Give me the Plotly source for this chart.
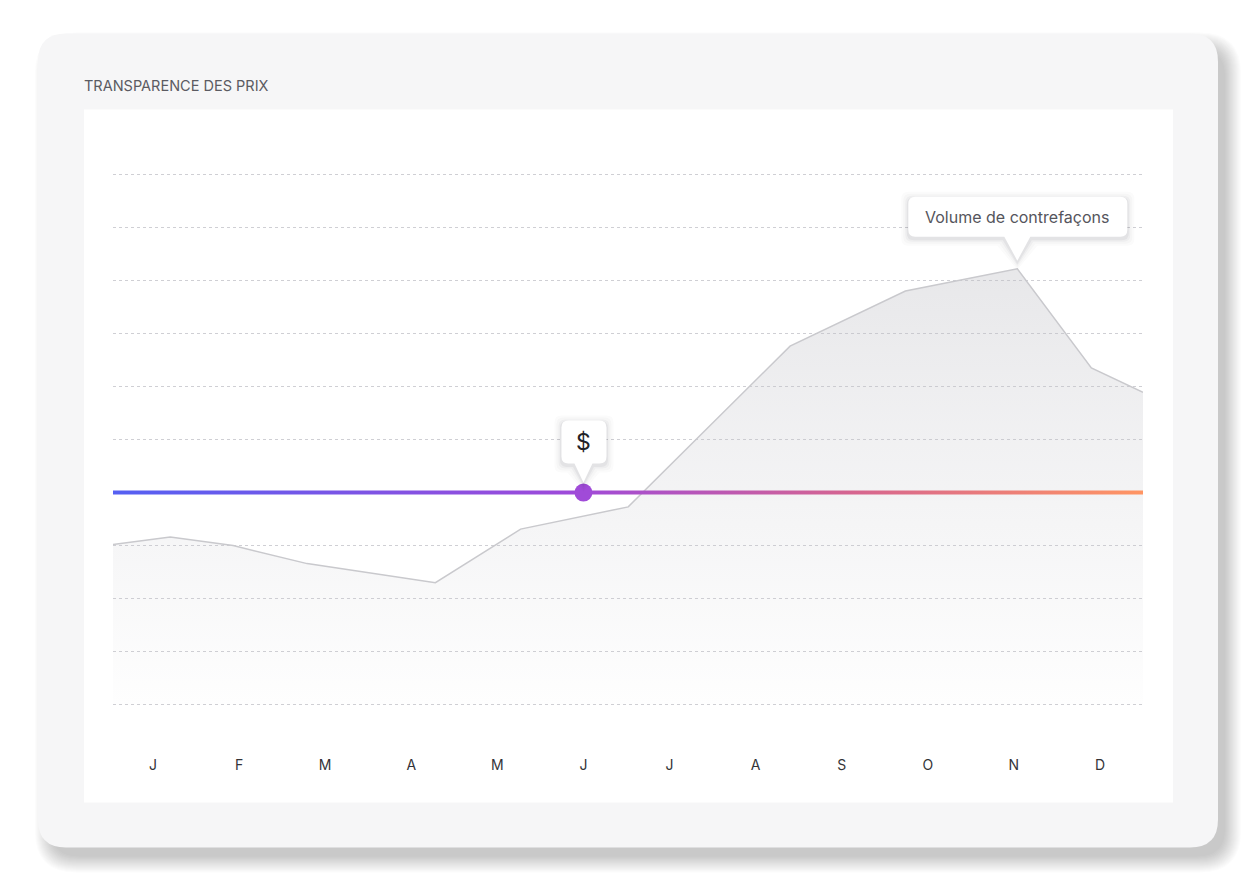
import plotly.graph_objects as go

# ---- data ----
months = ["J", "F", "M", "A", "M", "J", "J", "A", "S", "O", "N", "D"]
# counterfeit volume: x in month units (0 = Jan), y on a 0-10 scale
volume_x = [-0.465, 0.2, 0.93, 1.79, 3.28, 4.27, 5.52, 7.40, 8.74, 10.04, 10.90, 11.5]
volume_y = [3.02, 3.16, 3.0, 2.66, 2.3, 3.31, 3.73, 6.76, 7.80, 8.22, 6.35, 5.89]
price_level = 4          # flat price line
price_marker_month = 5   # June

title_text = "TRANSPARENCE DES PRIX"
volume_label = "Volume de contrefaçons"
price_label = "$"

# ---- geometry (pixels of the page; the page body adds an 8px offset) ----
OFF = 8
W, H = 1256 - OFF, 880 - OFF
L, R, T, B = 113 - OFF, 1143 - OFF, 174 - OFF, 705 - OFF
X_RANGE = [-0.465, 11.5]
Y_RANGE = [0, 10]
PAD = 0.1                      # a little room so the edge gridlines are drawn
UNIT = (B - T) / (Y_RANGE[1] - Y_RANGE[0])
PT, PB = T - PAD * UNIT, B + PAD * UNIT   # real plot-area top / bottom
FONT = "Inter"


def px2paper(px, py):
    px -= OFF
    py -= OFF
    return (px - L) / (R - L), (PB - py) / (PB - PT)


def rrect_paper(x0, y0, x1, y1, r):
    # rounded rectangle in page pixels -> path in paper coords
    pts = [("M", x0 + r, y0), ("L", x1 - r, y0), ("Q", x1, y0, x1, y0 + r),
           ("L", x1, y1 - r), ("Q", x1, y1, x1 - r, y1), ("L", x0 + r, y1),
           ("Q", x0, y1, x0, y1 - r), ("L", x0, y0 + r), ("Q", x0, y0, x0 + r, y0)]
    out = []
    for p in pts:
        cmd, coords = p[0], p[1:]
        conv = []
        for i in range(0, len(coords), 2):
            a, b = px2paper(coords[i], coords[i + 1])
            conv.append(f"{a:.5f},{b:.5f}")
        out.append(cmd + " ".join(conv))
    return " ".join(out) + " Z"


def bubble_path(x0, x1, ybot, ytop, tip, half, r, e=0):
    # pixel offsets from anchor, y upward; box with pointer pointing down
    x0 -= e; x1 += e; ybot -= e; ytop += e; tip -= e; half += e
    return (f"M{x0 + r},{ytop} L{x1 - r},{ytop} Q{x1},{ytop} {x1},{ytop - r} "
            f"L{x1},{ybot + r} Q{x1},{ybot} {x1 - r},{ybot} "
            f"L{half},{ybot} L0,{tip} L{-half},{ybot} "
            f"L{x0 + r},{ybot} Q{x0},{ybot} {x0},{ybot + r} "
            f"L{x0},{ytop - r} Q{x0},{ytop} {x0 + r},{ytop} Z")


shapes = []
# card shadow (soft, towards bottom-right)
n = 18
for i in range(n):
    e = 16 * (1 - i / (n - 1)) - 3
    shapes.append(dict(type="path", xref="paper", yref="paper", layer="below",
                       path=rrect_paper(38 + 10 - e, 33 + 12 - e, 1218 + 10 + e, 848 + 12 + e, 28 + max(e, 0)),
                       fillcolor="rgba(60,60,72,0.017)", line_width=0))
# card
shapes.append(dict(type="path", xref="paper", yref="paper", layer="below",
                   path=rrect_paper(38, 33, 1218, 848, 28),
                   fillcolor="#f6f6f7", line_width=0))
# white panel
a0, b0 = px2paper(84, 109)
a1, b1 = px2paper(1173, 803)
shapes.append(dict(type="rect", xref="paper", yref="paper", layer="below",
                   x0=a0, x1=a1, y0=b1, y1=b0, fillcolor="white", line_width=0))

peak_i = volume_y.index(max(volume_y))
peak_x, peak_y = volume_x[peak_i], volume_y[peak_i]


def add_bubble(ax, ay, x0, x1, ybot, ytop, tip, half):
    for e, a in [(7, 0.018), (5, 0.025), (3, 0.035), (1.5, 0.05)]:
        shapes.append(dict(type="path", xref="x", yref="y", layer="above",
                           xsizemode="pixel", ysizemode="pixel", xanchor=ax, yanchor=ay,
                           path=bubble_path(x0, x1, ybot - 2, ytop - 2, tip - 2, half, 7, e),
                           fillcolor=f"rgba(40,40,50,{a})", line_width=0))
    shapes.append(dict(type="path", xref="x", yref="y", layer="above",
                       xsizemode="pixel", ysizemode="pixel", xanchor=ax, yanchor=ay,
                       path=bubble_path(x0, x1, ybot, ytop, tip, half, 7),
                       fillcolor="white", line_width=0))


add_bubble(peak_x, peak_y, -109, 110, 32, 72, 8, 13)
add_bubble(price_marker_month, price_level, -22, 23, 29, 72, 10, 9)

fig = go.Figure()

# volume area
fig.add_trace(go.Scatter(
    x=volume_x, y=volume_y, mode="lines", fill="tozeroy",
    line=dict(color="#c9c9cd", width=1.5),
    fillgradient=dict(type="vertical", start=0, stop=max(volume_y),
                      colorscale=[[0, "rgba(200,200,206,0.02)"],
                                  [0.5, "rgba(195,195,201,0.2)"],
                                  [1, "rgba(190,190,196,0.36)"]]),
    hoverinfo="skip", showlegend=False))

# gradient price line, drawn as a thin band
half_t = 2 / UNIT
line_x = [X_RANGE[0], X_RANGE[1]]
fig.add_trace(go.Scatter(x=line_x, y=[price_level - half_t] * 2, mode="lines",
                         line=dict(width=0), hoverinfo="skip", showlegend=False))
fig.add_trace(go.Scatter(
    x=line_x, y=[price_level + half_t] * 2, mode="lines", fill="tonexty",
    line=dict(width=0),
    fillgradient=dict(type="horizontal", start=X_RANGE[0], stop=X_RANGE[1],
                      colorscale=[[0, "#5560f2"], [0.45, "#9f4ad9"],
                                  [0.72, "#d6658f"], [1, "#ff9563"]]),
    hoverinfo="skip", showlegend=False))

# price marker
fig.add_trace(go.Scatter(x=[price_marker_month], y=[price_level], mode="markers",
                         marker=dict(size=18, color="#a04bd8"),
                         hoverinfo="skip", showlegend=False))

tx, ty = px2paper(82, 85)
annotations = [
    dict(xref="paper", yref="paper", x=tx, y=ty, xanchor="left", yanchor="middle",
         text=title_text, showarrow=False, font=dict(family=FONT, size=14.5, color="#5b5b62")),
    dict(xref="x", yref="y", x=peak_x, y=peak_y, yshift=52, text=volume_label,
         showarrow=False, font=dict(family=FONT, size=16, color="#55555c")),
    dict(xref="x", yref="y", x=price_marker_month, y=price_level, yshift=51, text=price_label,
         showarrow=False, font=dict(family=FONT, size=23, color="#222226")),
]

fig.update_layout(
    width=W, height=H,
    margin=dict(l=L, r=W - R, t=PT, b=H - PB),
    paper_bgcolor="white", plot_bgcolor="rgba(0,0,0,0)",
    shapes=shapes, annotations=annotations,
    xaxis=dict(range=X_RANGE, tickvals=list(range(len(months))), ticktext=months,
               showgrid=False, zeroline=False, showline=False, ticks="",
               ticklabelstandoff=45,
               tickfont=dict(family=FONT, size=14, color="#333338"), fixedrange=True),
    yaxis=dict(range=[Y_RANGE[0] - PAD, Y_RANGE[1] + PAD], dtick=1, tick0=0,
               showticklabels=False, zeroline=False, showline=False, ticks="",
               showgrid=True, gridcolor="#cfcfd4", gridwidth=1, griddash="3px,3px",
               fixedrange=True),
)

fig.write_html("out.html")
